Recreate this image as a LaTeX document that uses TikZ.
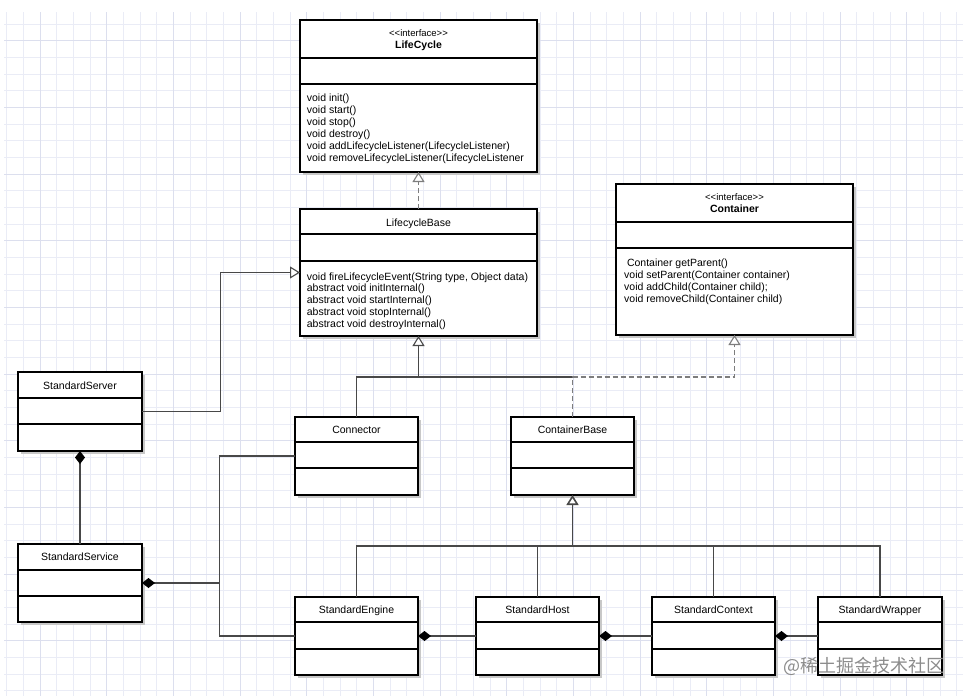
\documentclass[tikz,border=0pt]{standalone}
\usepackage{fontspec}
\setmainfont{Liberation Sans}
\newfontfamily\cjkfont{Noto Sans CJK SC}
\usetikzlibrary{arrows.meta}
\definecolor{gridminor}{RGB}{234,236,246}
\definecolor{gridmajor}{RGB}{220,223,238}
\definecolor{linec}{RGB}{72,72,72}
\definecolor{dashc}{RGB}{125,125,125}
\definecolor{shadowc}{RGB}{200,200,200}
\tikzset{
  classbox/.style={draw=black, line width=1.5pt, fill=white, rectangle, inner sep=0pt, outer sep=0pt},
  divider/.style={line width=1.5pt, draw=black},
  titletext/.style={font=\fontsize{10.5}{12}\selectfont, anchor=base, inner sep=0pt},
  stereo/.style={font=\fontsize{9.5}{11}\selectfont, anchor=base, inner sep=0pt},
  btitle/.style={font=\bfseries\fontsize{10.5}{12}\selectfont, anchor=base, inner sep=0pt},
  methodtext/.style={font=\fontsize{10.5}{12}\selectfont, anchor=base west, inner sep=0pt},
  assoc/.style={draw=linec, line width=1.1pt},
  gen/.style={assoc, -{Triangle[open, width=12pt, length=10pt, fill=white]}},
  realiz/.style={draw=dashc, line width=1.1pt, dash pattern=on 5pt off 3pt},
  realizarrow/.style={realiz, -{Triangle[open, width=12pt, length=10pt, fill=white]}},
  comp/.style={assoc, -{Diamond[width=10pt, length=13pt, color=black, fill=black]}},
}
\newcommand\umlbox[7]{%
  \fill[shadowc] ({#2+2.5},{#3+2.5}) rectangle ({#4+2.5},{#5+2.5});
  \node[classbox, minimum width={#4-#2}, minimum height={#5-#3}] (#1) at ({(#2+#4)/2},{(#3+#5)/2}) {};
  \draw[divider] (#2,#6) -- (#4,#6);
  \draw[divider] (#2,#7) -- (#4,#7);
}
\newcommand\stereotxt{<\kern0pt<interface>\kern0pt>}
\begin{document}
\begin{tikzpicture}[x=1pt, y=-1pt]
\useasboundingbox (0,0) rectangle (963,696);
\fill[white] (0,0) rectangle (963,696);
% grid
\foreach \i in {0,...,57} { \draw[gridminor, line width=0.7pt] ({6.7+\i*16.667},12) -- ({6.7+\i*16.667},696); }
\foreach \k in {0,...,40} { \draw[gridminor, line width=0.7pt] (4,{24+\k*16.667}) -- (963,{24+\k*16.667}); }
\foreach \i in {2,6,...,58} { \draw[gridmajor, line width=0.7pt] ({6.7+\i*16.667},12) -- ({6.7+\i*16.667},696); }
\foreach \k in {1,5,...,41} { \draw[gridmajor, line width=0.7pt] (4,{24+\k*16.667}) -- (963,{24+\k*16.667}); }

% boxes
\umlbox{lc}{300}{20}{537}{172}{58}{84}
\umlbox{lb}{300}{209}{537}{336}{234}{261}
\umlbox{ctr}{616}{184}{853}{335}{222}{248}
\umlbox{srv}{18}{372}{142}{451}{398}{424}
\umlbox{svc}{18}{544}{142}{622}{570}{596}
\umlbox{conn}{295}{417}{418}{495}{442}{468}
\umlbox{cb}{511}{417}{634}{495}{442}{468}
\umlbox{eng}{295}{597}{418}{675}{622}{649}
\umlbox{host}{476}{597}{599}{675}{622}{649}
\umlbox{ctx}{652}{597}{775}{675}{622}{649}
\umlbox{wrap}{818}{597}{942}{675}{622}{649}

% titles
\node[stereo] (lc-st) at (418.5,36) {\stereotxt};
\node[btitle] (lc-t) at (418.5,48) {LifeCycle};
\node[titletext] (lb-t) at (418.5,226.8) {LifecycleBase};
\node[stereo] (ctr-st) at (734.5,200) {\stereotxt};
\node[btitle] (ctr-t) at (734.5,212) {Container};
\node[titletext] (srv-t) at (80,389.8) {StandardServer};
\node[titletext] (svc-t) at (80,560.5) {StandardService};
\node[titletext] (conn-t) at (356.5,433) {Connector};
\node[titletext] (cb-t) at (572.5,433) {ContainerBase};
\node[titletext] (eng-t) at (356.5,613.8) {StandardEngine};
\node[titletext] (host-t) at (537.5,613.8) {StandardHost};
\node[titletext] (ctx-t) at (713.5,613.8) {StandardContext};
\node[titletext] (wrap-t) at (880,613.8) {StandardWrapper};

% methods
\foreach \t [count=\i from 0] in {void init(), void start(), void stop(), void destroy(), void addLifecycleListener(LifecycleListener), void removeLifecycleListener(LifecycleListener}
  { \node[methodtext] (lc-m\i) at (306.7,{101+\i*12.1}) {\t}; }
\foreach \t [count=\i from 0] in {{void fireLifecycleEvent(String type, Object data)}, abstract void initInternal(), abstract void startInternal(), abstract void stopInternal(), abstract void destroyInternal()}
  { \node[methodtext] (lb-m\i) at (306.7,{280+\i*11.8}) {\t}; }
\foreach \t [count=\i from 0] in {\hspace{2.8pt}Container getParent(), void setParent(Container container), void addChild(Container child);, void removeChild(Container child)}
  { \node[methodtext] (ctr-m\i) at (624,{266+\i*12}) {\t}; }

% connectors
\draw[realizarrow] (lb.north) -- (lc.south);

\coordinate (jsrv) at (220.5,272.5);
\draw[gen] (srv.east) -| (jsrv) -- (lb.west);

\coordinate (jgen) at (418.5,377);
\coordinate (jcb) at (572.5,377);
\coordinate (jreal) at (734.5,377);
\draw[assoc] (conn.north) |- (jcb);
\draw[gen] (jgen) -- (lb.south);
\draw[realizarrow] (cb.north) |- (jreal) -- (ctr.south);

\coordinate (jsvc) at (219.5,583);
\draw[assoc] (conn.west) -| (jsvc);
\draw[assoc] (eng.west) -| (jsvc);
\draw[comp] (jsvc) -- (svc.east);
\draw[comp] (svc.north) -- (srv.south);

\coordinate (jbot) at (572.5,546);
\draw[assoc] (eng.north) |- (jbot);
\draw[assoc] (host.north) |- (jbot);
\draw[assoc] (ctx.north) |- (jbot);
\draw[assoc] (wrap.north) |- (jbot);
\draw[gen, line width=1.6pt] (jbot) -- (cb.south);

\draw[comp] (host.west) -- (eng.east);
\draw[comp] (ctx.west) -- (host.east);
\draw[comp] (wrap.west) -- (ctx.east);

% watermark
\node[font=\cjkfont\fontsize{18}{20}\selectfont, text=black!45, anchor=west, inner sep=0pt] (wm) at (783,666) {@稀土掘金技术社区};
\end{tikzpicture}
\end{document}
